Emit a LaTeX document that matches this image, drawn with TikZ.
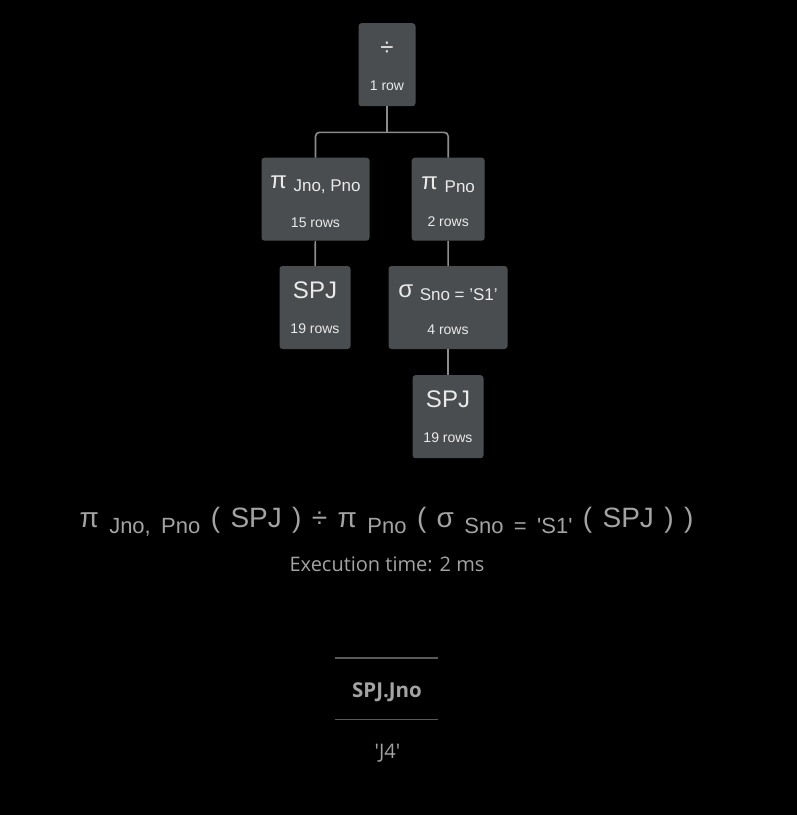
\documentclass[tikz,border=0pt]{standalone}
\usepackage{fontspec}
\setmainfont{Liberation Sans}
\newfontfamily\exprfont{Liberation Sans}
\newfontfamily\notefont{Open Sans}
\definecolor{boxgray}{HTML}{4A4D4F}
\definecolor{boxtext}{HTML}{EAEAEA}
\definecolor{linkgray}{HTML}{8C8C8C}
\definecolor{exprgray}{HTML}{A3A3A3}
\definecolor{rulegray}{HTML}{5A5A5A}
\newcommand\optitle[1]{{\fontsize{24}{24}\selectfont\rule{0pt}{17.2pt}#1}}
\newcommand\opsub[1]{\raisebox{-3.4pt}{\fontsize{17}{17}\selectfont #1}}
\newcommand\oprows[1]{{\fontsize{14}{14}\selectfont #1}}
\newcommand\exsub[1]{\raisebox{-6pt}{\fontsize{22}{22}\selectfont #1}}
\newcommand\exprsize{\exprfont\fontsize{28}{28}\selectfont\spaceskip10.4pt\relax}
\begin{document}
\begin{tikzpicture}[x=1pt, y=-1pt]
\tikzstyle{op}=[fill=boxgray, rounded corners=3pt, minimum height=83pt, inner sep=0pt, align=center, text=boxtext]
\tikzstyle{link}=[draw=linkgray, line width=1.6pt]
\tikzstyle{caption}=[text=exprgray, inner sep=0pt, anchor=base]

\fill[black] (0,0) rectangle (797,815);
\useasboundingbox (0,0) rectangle (797,815);

\node[op, minimum width=57pt](div) at (387, 64.7){\optitle{÷}\\[23pt]\oprows{1 row}};
\node[op, minimum width=108pt](pjl) at (315.5, 199.2){\optitle{π \opsub{Jno, Pno}}\\[23pt]\oprows{15 rows}};
\node[op, minimum width=73pt](pp) at (448.2, 199.2){\optitle{π \opsub{Pno}}\\[23pt]\oprows{2 rows}};
\node[op, minimum width=71pt](spjl) at (315, 307.5){\optitle{SPJ}\\[23pt]\oprows{19 rows}};
\node[op, minimum width=119pt](sel) at (448, 307.5){\optitle{σ \opsub{Sno = 'S1'}}\\[23pt]\oprows{4 rows}};
\node[op, minimum width=71pt](spjb) at (448, 416.7){\optitle{SPJ}\\[23pt]\oprows{19 rows}};

\coordinate (split) at (387, 132.3);
\draw[link] (div) -- (split);
\draw[link, rounded corners=4pt] (split) -| (pjl);
\draw[link, rounded corners=4pt] (split) -| (pp);
\draw[link] (pjl) -- (spjl);
\draw[link] (pp) -- (sel);
\draw[link] (sel) -- (spjb);

\node[caption, font=\exprsize](expr) at (386.5, 527.5){π \exsub{Jno, Pno} ( SPJ ) ÷ π \exsub{Pno} ( σ \exsub{Sno = 'S1'} ( SPJ ) )};
\node[caption, font=\notefont\fontsize{20}{20}\selectfont](time) at (387, 571){Execution time: 2 ms};

\node[caption, font=\notefont\bfseries\fontsize{20.5}{20.5}\selectfont](col) at (387, 697.3){SPJ.Jno};
\node[caption, font=\notefont\fontsize{20}{20}\selectfont](val) at (387.5, 758.3){'J4'};
\coordinate (rtl) at (335, 658);
\coordinate (rtr) at (438, 658);
\coordinate (rbl) at (335, 719.5);
\coordinate (rbr) at (438, 719.5);
\draw[draw=rulegray, line width=1.2pt] (rtl) -- (rtr);
\draw[draw=rulegray, line width=1.2pt] (rbl) -- (rbr);
\end{tikzpicture}
\end{document}
